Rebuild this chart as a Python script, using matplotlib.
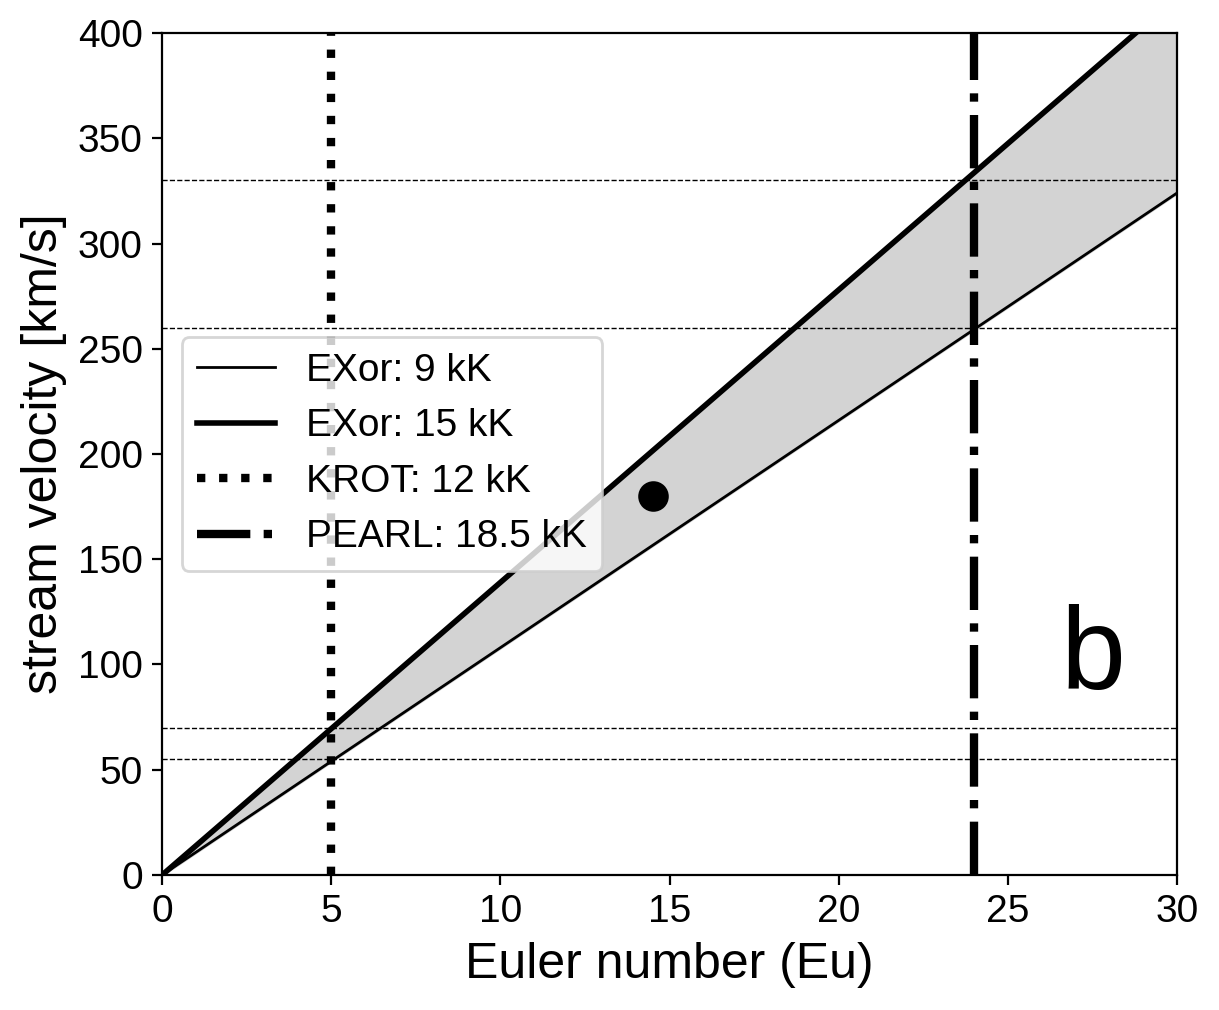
import numpy as np
import matplotlib
matplotlib.use("Agg")
import matplotlib.pyplot as plt

plt.rcParams["font.family"] = ["Liberation Sans", "DejaVu Sans"]

# stream velocity per unit Euler number (km/s) for the two EXor temperatures
slope_9kk = 10.8
slope_15kk = 13.9
euler_range = [0, 30]
krot_eu = 5
pearl_eu = 24
ref_velocities = [55, 70, 260, 330]
point_eu = 14.5
point_v = 180

eu = np.linspace(euler_range[0], euler_range[1], 200)
v_low = slope_9kk * eu
v_high = slope_15kk * eu

fig = plt.figure(figsize=(6.095, 5.05), dpi=200)
ax = fig.add_axes([0.133, 0.1337, 0.8326, 0.8336])

ax.fill_between(eu, v_low, v_high, color="lightgray", zorder=1)
ax.plot(eu, v_low, color="black", lw=1, label="EXor: 9 kK", zorder=3)
ax.plot(eu, v_high, color="black", lw=2, label="EXor: 15 kK", zorder=3)
ax.axvline(krot_eu, color="black", lw=3, ls=":", label="KROT: 12 kK", zorder=3)
ax.axvline(pearl_eu, color="black", lw=3, ls="-.", label="PEARL: 18.5 kK", zorder=3)
for v in ref_velocities:
    ax.axhline(v, color="black", lw=0.5, ls="--", zorder=2)
ax.plot(point_eu, point_v, "o", color="black", ms=10, zorder=4)

ax.text(27.5, 103, "b", fontsize=42, ha="center", va="center")

ax.set_xlim(0, 30)
ax.set_ylim(0, 400)
ax.set_xlabel("Euler number (Eu)", fontsize=18)
ax.set_ylabel("stream velocity [km/s]", fontsize=18)
ax.tick_params(labelsize=14)
ax.legend(loc="center left", bbox_to_anchor=(0.0, 0.5), fontsize=14)

fig.savefig("out.png", dpi=200)
